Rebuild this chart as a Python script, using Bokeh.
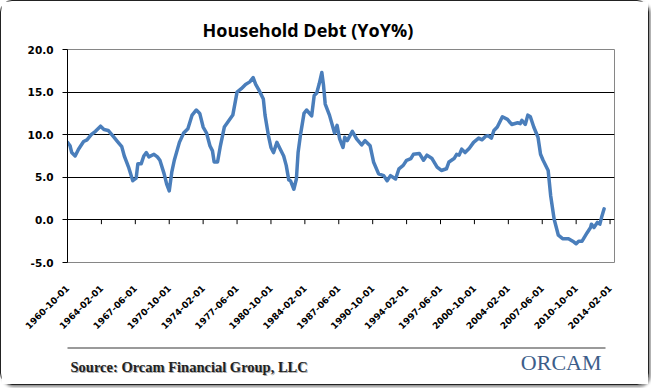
import math
from bokeh.plotting import figure
from bokeh.layouts import column
from bokeh.models import FixedTicker, NumeralTickFormatter, Range1d
from bokeh.core.properties import value
from bokeh.embed import file_html
from bokeh.resources import INLINE

# ---------------- data ----------------
dates = ["1960-10","1961-01","1961-03","1961-07","1961-11","1962-05","1962-09","1963-02","1963-07",
         "1964-01","1964-05","1964-10","1965-04","1965-09","1966-02","1966-05","1966-10","1967-03",
         "1967-07","1967-09","1968-01","1968-04","1968-07","1968-10","1969-04","1969-08","1969-11",
         "1970-04","1970-07","1970-10","1971-01","1971-04","1971-10","1972-03","1972-08","1973-01",
         "1973-06","1973-10",
         "1974-02","1974-06","1974-10","1975-01","1975-03","1975-07","1975-10","1976-03","1976-08",
         "1977-01","1977-06","1977-11","1978-04","1978-09","1979-01","1979-04","1979-08","1980-01",
         "1980-03","1980-07","1980-10","1981-01","1981-05","1981-09","1982-01","1982-04","1982-07",
         "1982-09","1983-01","1983-04","1983-06","1983-09","1984-01","1984-04","1984-10","1985-01",
         "1985-04","1985-07","1985-10","1985-12","1986-02","1986-07","1987-01","1987-04","1987-07",
         "1987-11","1988-01",
         "1988-04","1988-10","1989-03","1989-09","1990-01","1990-07","1990-11","1991-05","1991-11",
         "1992-03","1992-07","1993-01","1993-05","1993-10","1994-02","1994-07","1994-10","1995-05",
         "1995-10","1996-02","1996-08","1997-02","1997-07","1998-01","1998-04","1998-10","1999-01",
         "1999-04","1999-07","1999-11","2000-04","2000-09","2001-03","2001-07","2001-11",
         "2002-02","2002-06","2002-09","2003-01","2003-07","2004-01","2004-06","2005-01","2005-04",
         "2005-06","2005-10","2006-01","2006-04","2006-08","2007-01","2007-04","2007-07","2008-01",
         "2008-04","2008-08","2009-01","2009-06","2010-01","2010-06","2010-10","2011-01","2011-05",
         "2011-11","2012-03","2012-04","2012-07","2012-11","2013-02","2013-04","2013-07"]

yoy = [9.1,8.7,7.9,7.5,8.3,9.2,9.4,10.0,10.4,11.0,10.6,10.5,9.8,9.2,8.6,7.5,6.2,4.6,4.9,6.6,6.6,7.5,
       7.9,7.4,7.7,7.4,7.0,5.4,4.2,3.4,5.6,7.0,9.1,10.2,10.7,12.3,12.9,12.5,
       10.9,10.2,8.7,8.1,6.8,6.8,8.5,10.9,11.6,12.3,15.0,15.4,15.9,16.2,16.7,15.9,15.2,14.2,12.3,9.9,
       8.5,7.9,9.1,8.3,7.5,6.4,4.7,4.6,3.6,4.8,7.9,10.1,12.5,12.9,12.2,14.6,14.9,16.0,17.3,15.8,13.6,
       12.3,10.2,11.1,9.5,8.5,9.7,
       9.3,10.4,9.5,8.8,9.3,8.7,6.8,5.4,5.2,4.6,5.2,4.8,6.0,6.4,7.0,7.2,7.7,7.8,7.0,7.6,7.2,6.2,5.8,
       6.0,6.8,7.2,7.7,7.6,8.3,7.9,8.4,9.1,9.6,9.4,9.8,
       9.9,9.6,10.5,10.9,12.1,11.8,11.2,11.4,11.3,11.7,11.2,12.3,12.1,10.9,9.7,7.7,7.0,5.8,2.8,0.1,
       -1.8,-2.2,-2.2,-2.5,-2.8,-2.5,-2.5,-1.5,-0.9,-0.5,-0.9,-0.3,-0.5,0.3,1.3]

tick_labels = ["1960-10-01","1964-02-01","1967-06-01","1970-10-01","1974-02-01","1977-06-01",
               "1980-10-01","1984-02-01","1987-06-01","1990-10-01","1994-02-01","1997-06-01",
               "2000-10-01","2004-02-01","2007-06-01","2010-10-01","2014-02-01"]
y_ticks = [-5, 0, 5, 10, 15, 20]
grid_levels = [0, 5, 10, 15]

title_text = "Household Debt (YoY%)"
source_text = "Source: Orcam Financial Group, LLC"
logo_text = "ORCAM"


def to_year(s):
    parts = s.split("-")
    return int(parts[0]) + (int(parts[1]) - 1) / 12.0


xs = [to_year(d) for d in dates]
tick_pos = [to_year(t) for t in tick_labels]

W = 647
H_MAIN = 340
H_FOOT = 43
LEFT = 66
RIGHT = 34

p = figure(width=W, height=H_MAIN, output_backend="svg", toolbar_location=None,
           x_range=Range1d(1960.75, 2014.52), y_range=Range1d(-5, 20),
           min_border_left=LEFT, min_border_right=RIGHT, min_border_top=48, min_border_bottom=79)
p.background_fill_color = "white"
p.border_fill_color = "white"
p.outline_line_color = "#868686"
p.outline_line_width = 1

# title
p.title.text = title_text
p.title.align = "left"
p.title.offset = 135
p.title.standoff = 15
p.title.text_font = "Open Sans"
p.title.text_font_style = "bold"
p.title.text_font_size = "18px"
p.title.text_color = "black"

# y axis
p.yaxis.ticker = FixedTicker(ticks=y_ticks)
p.yaxis.formatter = NumeralTickFormatter(format="0.0")
p.yaxis.axis_line_color = "black"
p.yaxis.major_tick_line_color = "black"
p.yaxis.major_tick_out = 5
p.yaxis.major_tick_in = 0
p.yaxis.minor_tick_line_color = None
p.yaxis.major_label_text_font = "DejaVu Sans"
p.yaxis.major_label_text_font_style = "bold"
p.yaxis.major_label_text_font_size = "10.5px"
p.yaxis.major_label_text_color = "black"
p.yaxis.major_label_standoff = 9

# x axis (labels only, at bottom)
p.xaxis.ticker = FixedTicker(ticks=tick_pos)
p.xaxis.major_label_overrides = {tp: lab for tp, lab in zip(tick_pos, tick_labels)}
p.xaxis.axis_line_color = None
p.xaxis.major_tick_line_color = None
p.xaxis.minor_tick_line_color = None
p.xaxis.major_tick_out = 0
p.xaxis.major_tick_in = 0
p.xaxis.major_label_orientation = math.pi / 4
p.xaxis.major_label_text_font = "DejaVu Sans"
p.xaxis.major_label_text_font_style = "bold"
p.xaxis.major_label_text_font_size = "9px"
p.xaxis.major_label_text_color = "black"
p.xaxis.major_label_standoff = 24

# grid
p.xgrid.grid_line_color = None
p.ygrid.ticker = FixedTicker(ticks=grid_levels)
p.ygrid.grid_line_color = "black"
p.ygrid.grid_line_width = 1

# x ticks on the zero line
p.segment(x0=tick_pos, x1=tick_pos, y0=[0] * len(tick_pos), y1=[-0.5] * len(tick_pos),
          line_color="black", line_width=1)

# series
p.line(xs, yoy, line_color="#4A7EBB", line_width=3.5, line_join="round", line_cap="round")

# ---------------- footer (its frame is aligned with the chart frame) ----------------
f = figure(width=W, height=H_FOOT, output_backend="svg", toolbar_location=None,
           x_range=Range1d(LEFT, W - RIGHT), y_range=Range1d(H_FOOT, 0),
           min_border_left=LEFT, min_border_right=RIGHT, min_border_top=0, min_border_bottom=0)
f.axis.visible = False
f.grid.visible = False
f.outline_line_color = None
f.background_fill_color = "white"
f.border_fill_color = "white"

f.segment(x0=[61], x1=[604], y0=[6.5], y1=[6.5], line_color="#9a9a9a", line_width=2)
f.text(x=[70], y=[26.5], text=[source_text], text_font=value("Liberation Serif"),
       text_font_style="bold", text_font_size="14.5px", text_color="#b0b0b0",
       text_align="left", text_baseline="alphabetic")
f.text(x=[69], y=[25.5], text=[source_text], text_font=value("Liberation Serif"),
       text_font_style="bold", text_font_size="14.5px", text_color="#222222",
       text_align="left", text_baseline="alphabetic")
f.text(x=[600], y=[21], text=[logo_text], text_font=value("Liberation Serif"),
       text_font_size="22px", text_color="#3D5E8A",
       text_align="right", text_baseline="alphabetic")

layout = column(p, f, spacing=0)
layout.styles = {"border": "1.5px solid #222", "border-radius": "12px",
                 "box-shadow": "2px 2px 3px #888", "background-color": "white"}

open("out.html", "w").write(file_html(layout, INLINE))
